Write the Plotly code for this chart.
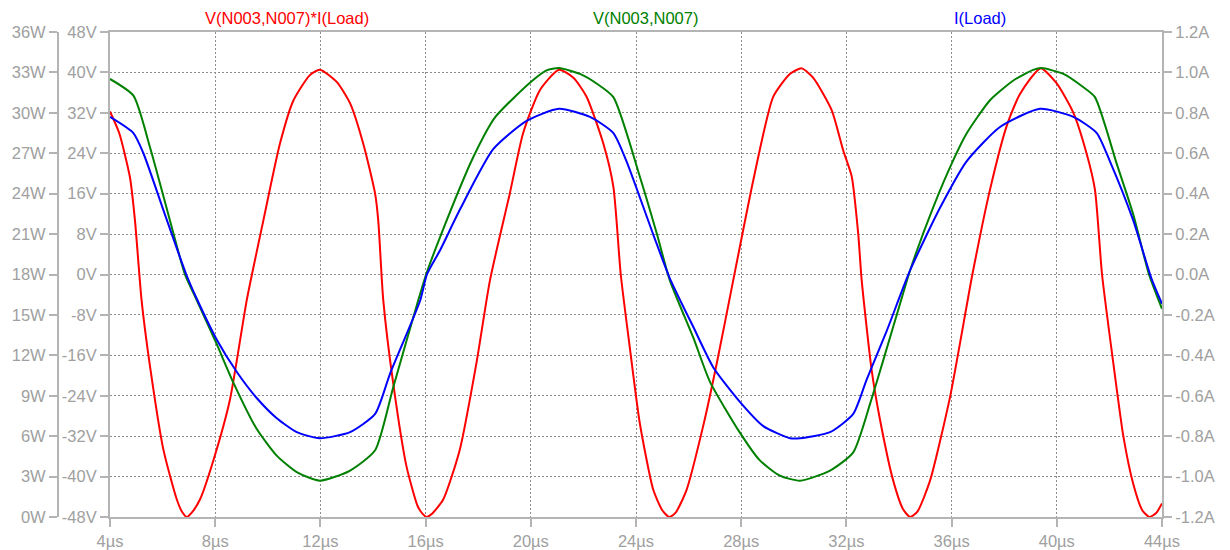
import plotly.graph_objects as go

# ---- data ----
# time axis in microseconds
x_ticks = [4, 8, 12, 16, 20, 24, 28, 32, 36, 40, 44]
x_ticklabels = ["4µs", "8µs", "12µs", "16µs", "20µs", "24µs", "28µs", "32µs", "36µs", "40µs", "44µs"]

w_ticks = [0, 3, 6, 9, 12, 15, 18, 21, 24, 27, 30, 33, 36]
w_ticklabels = ["0W", "3W", "6W", "9W", "12W", "15W", "18W", "21W", "24W", "27W", "30W", "33W", "36W"]

v_ticks = [-48, -40, -32, -24, -16, -8, 0, 8, 16, 24, 32, 40, 48]
v_ticklabels = ["-48V", "-40V", "-32V", "-24V", "-16V", "-8V", "0V", "8V", "16V", "24V", "32V", "40V", "48V"]

a_ticks = [-1.2, -1.0, -0.8, -0.6, -0.4, -0.2, 0.0, 0.2, 0.4, 0.6, 0.8, 1.0, 1.2]
a_ticklabels = ["-1.2A", "-1.0A", "-0.8A", "-0.6A", "-0.4A", "-0.2A", "0.0A", "0.2A", "0.4A", "0.6A", "0.8A", "1.0A", "1.2A"]

# V(N003,N007)
t_v = [4.0, 4.89, 5.52, 6.28, 6.85, 7.3, 8.05, 8.69, 9.57, 10.33, 11.1, 11.98, 13.13, 14.08,
       14.77, 15.72, 16.02, 16.55, 17.81, 18.64, 20.0, 20.6, 21.07, 21.87, 22.5, 23.14, 24.15,
       24.79, 25.29, 26.18, 26.81, 27.95, 28.71, 29.47, 30.24, 31.38, 32.26, 32.9, 33.4, 34.04,
       34.42, 35.3, 36.06, 36.57, 37.46, 38.35, 39.1, 39.42, 40.25, 41.0, 41.45, 42.28, 42.9,
       43.5, 44.0]
v_vals = [38.7, 35.4, 25.2, 10.7, 0.0, -5.1, -13.7, -21.4, -30.5, -35.8, -39.1, -40.8, -38.8, -34.8,
          -22.3, -5.1, 0.0, 7.4, 23.2, 31.1, 38.1, 40.4, 40.85, 39.7, 37.8, 35.1, 19.3,
          8.1, -1.2, -12.5, -21.2, -31.3, -36.8, -39.8, -40.8, -38.8, -35.2, -25.6, -17.0, -5.8,
          0.8, 13.3, 22.6, 27.9, 34.5, 38.4, 40.5, 40.85, 39.7, 37.1, 35.1, 21.9, 12.0,
          0.1, -6.8]

# I(Load)
t_i = [4.0, 4.89, 5.27, 6.16, 6.9, 7.3, 8.05, 8.81, 9.57, 10.33, 11.1, 11.98, 13.13, 14.08,
       14.65, 15.79, 16.05, 16.55, 17.3, 18.57, 19.84, 21.07, 22.25, 23.14, 23.64, 24.65, 25.29,
       26.18, 26.94, 27.95, 28.84, 29.86, 30.24, 31.38, 32.26, 32.77, 33.53, 34.42, 35.56, 36.57,
       37.84, 39.36, 40.63, 41.52, 42.02, 42.9, 43.6, 44.0]
i_vals = [0.78, 0.70, 0.60, 0.27, 0.0, -0.12, -0.32, -0.48, -0.61, -0.71, -0.78, -0.81, -0.78, -0.69,
          -0.49, -0.13, 0.0, 0.12, 0.32, 0.62, 0.76, 0.82, 0.78, 0.70, 0.56, 0.20, -0.02,
          -0.26, -0.46, -0.63, -0.75, -0.81, -0.81, -0.78, -0.69, -0.52, -0.28, 0.02, 0.33, 0.56,
          0.73, 0.82, 0.78, 0.70, 0.56, 0.27, -0.02, -0.145]

# V(N003,N007)*I(Load)
t_p = [4.0, 4.35, 4.76, 4.95, 5.2, 5.52, 6.03, 6.54, 6.75, 6.92, 7.1, 7.42, 7.93, 8.56, 9.2,
       9.83, 10.46, 10.97, 11.6, 11.98, 12.62, 13.13, 13.63, 14.08, 14.2, 14.39, 14.77, 15.28,
       15.7, 15.88, 16.04, 16.22, 16.67, 17.3, 17.94, 18.45, 19.2, 19.71, 20.35, 21.07, 21.62,
       22.12, 22.76, 23.14, 23.42, 23.77, 24.15, 24.66, 25.0, 25.26, 25.5, 25.92, 26.56, 27.06,
       27.7, 28.46, 29.22, 29.86, 30.3, 30.74, 31.44, 31.88, 32.2, 32.45, 32.58, 32.96, 33.28,
       33.78, 34.15, 34.42, 34.7, 35.18, 35.94, 36.79, 37.46, 38.09, 38.6, 39.38, 39.99, 40.63,
       41.13, 41.45, 41.72, 42.15, 42.53, 42.9, 43.25, 43.52, 43.78, 44.0]
p_vals = [30.1, 28.5, 25.2, 22.0, 16.1, 11.2, 5.0, 1.3, 0.35, 0.0, 0.3, 1.3, 4.2, 8.7, 16.1,
          22.0, 27.7, 30.9, 32.8, 33.2, 32.3, 30.7, 27.7, 24.0, 22.0, 16.1, 9.9, 3.7,
          0.8, 0.25, 0.0, 0.2, 1.3, 5.0, 11.5, 17.6, 24.0, 28.5, 31.7, 33.2, 32.6,
          31.2, 27.7, 24.5, 18.0, 12.5, 6.9, 2.0, 0.5, 0.0, 0.3, 2.0, 6.8, 11.3,
          17.6, 25.0, 31.2, 32.9, 33.3, 32.6, 30.2, 27.2, 25.3, 21.0, 17.6, 10.9, 7.2,
          2.7, 0.6, 0.0, 0.4, 2.7, 8.9, 18.0, 24.3, 29.0, 31.4, 33.3, 32.2, 30.0,
          27.0, 24.3, 18.0, 11.4, 6.0, 2.5, 0.5, 0.0, 0.3, 1.0]

# ---- styling ----
FONT = "Liberation Sans, Arial, sans-serif"
LABEL = "#a0a0a0"
AXLINE = "#b4b4b4"
GRID = "#8c8c8c"
FS = 16.5

W, H = 1230, 550
ML, MR, MT, MB = 40, 68, 32, 33
PW = W - ML - MR
PH = H - MT - MB
x_dom0 = (110 - ML) / PW
w_pos = (58 - ML) / PW

fig = go.Figure()
LINE_SHAPE = dict(shape="spline", smoothing=0.6)
fig.add_trace(go.Scatter(x=t_p, y=p_vals, mode="lines", yaxis="y",
                         line=dict(color="#ff0000", width=2, **LINE_SHAPE), name="V(N003,N007)*I(Load)"))
fig.add_trace(go.Scatter(x=t_v, y=v_vals, mode="lines", yaxis="y2",
                         line=dict(color="#008000", width=2, **LINE_SHAPE), name="V(N003,N007)"))
fig.add_trace(go.Scatter(x=t_i, y=i_vals, mode="lines", yaxis="y3",
                         line=dict(color="#0000ff", width=2, **LINE_SHAPE), name="I(Load)"))

common = dict(showline=True, linecolor=AXLINE, linewidth=2, ticks="outside", ticklen=8,
              tickwidth=2, tickcolor=AXLINE, zeroline=False, automargin=False,
              tickfont=dict(family=FONT, size=FS, color=LABEL))

fig.update_layout(
    template="none",
    width=W, height=H,
    margin=dict(l=ML, r=MR, t=MT, b=MB, pad=0, autoexpand=False),
    paper_bgcolor="white", plot_bgcolor="white",
    showlegend=False,
    font=dict(family=FONT, size=FS, color=LABEL),
    xaxis=dict(domain=[x_dom0, 1], range=[4, 44], tickvals=x_ticks, ticktext=x_ticklabels,
               mirror=True, showgrid=True, gridcolor=GRID, gridwidth=1, griddash="2px,2px",
               anchor="y2", **common),
    yaxis=dict(anchor="free", position=w_pos, side="left", range=[0, 36],
               tickvals=w_ticks, ticktext=w_ticklabels,
               showgrid=True, gridcolor=GRID, gridwidth=1, griddash="2px,2px", **common),
    yaxis2=dict(overlaying="y", anchor="x", side="left", range=[-48, 48],
                tickvals=v_ticks, ticktext=v_ticklabels, showgrid=False, **common),
    yaxis3=dict(overlaying="y", anchor="x", side="right", range=[-1.2, 1.2],
                tickvals=a_ticks, ticktext=a_ticklabels, showgrid=False, **common),
)

title_y = 1 + (MT - 18) / PH
for txt, px, col in [("V(N003,N007)*I(Load)", 287, "#ff0000"),
                     ("V(N003,N007)", 645, "#008000"),
                     ("I(Load)", 980, "#0000ff")]:
    fig.add_annotation(text=txt, x=(px - ML) / PW, y=title_y, xref="paper", yref="paper",
                       xanchor="center", yanchor="middle", showarrow=False,
                       font=dict(family=FONT, size=FS, color=col))

fig.write_html("out.html", config={"displayModeBar": False})
